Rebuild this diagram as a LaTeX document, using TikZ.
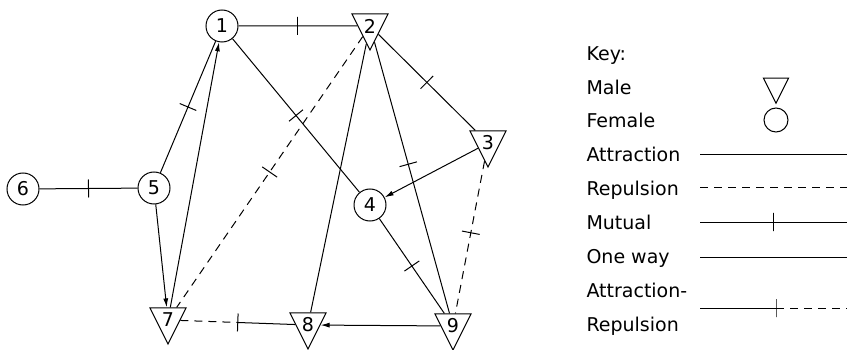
\documentclass[tikz,border=0pt]{standalone}
\usepackage{fontspec}
\usepackage{graphicx}
\setmainfont{DejaVu Sans}
\usetikzlibrary{shapes.geometric,arrows.meta}
\newcommand\maletext[1]{\scalebox{1}[0.866]{#1}}
\begin{document}
\begin{tikzpicture}[x=1pt,y=-1pt,
  every node/.style={font=\fontsize{19}{22}\selectfont},
  female/.style={circle,draw,line width=1pt,minimum size=32pt,inner sep=0pt},
  male/.style={regular polygon,regular polygon sides=3,shape border rotate=180,draw,line width=1pt,minimum size=41.6pt,inner sep=0pt,yscale=1.155,transform shape},
  link/.style={line width=1pt},
  rep/.style={link,dash pattern=on 8pt off 6pt},
  tick/.style={draw,solid,line width=1pt,rectangle,minimum width=0pt,minimum height=18pt,inner sep=0pt,sloped},
  oneway/.style={link,-{Latex[length=9pt,width=5pt]}},
  keytext/.style={anchor=base west}
]
\useasboundingbox (0,0) rectangle (852,350);
% nodes
\node[female] (n1) at (222,26) {1};
\node[male] (n2) at (370,26) {\maletext{2}};
\node[male] (n3) at (488,143) {\maletext{3}};
\node[female] (n4) at (370,205) {4};
\node[female] (n5) at (154,188) {5};
\node[female] (n6) at (23,189) {6};
\node[male] (n7) at (168,320) {\maletext{7}};
\node[male] (n8) at (308,325) {\maletext{8}};
\node[male] (n9) at (453,326) {\maletext{9}};
% connectors
\draw[link] (n1) -- node[tick]{} (n2);
\draw[link] (n1) -- node[tick]{} (n5);
\draw[link] (n6) -- node[tick]{} (n5);
\draw[oneway] (n5) -- (n7);
\draw[oneway] (n7) -- (n1);
\draw[link] (n1) -- node[tick]{} (n4);
\draw[rep] (n2) -- node[tick]{} (n7);
\draw[link] (n2) -- (n8);
\draw[link] (n2) -- node[tick,pos=0.45]{} (n9);
\draw[link] (n2) -- node[tick]{} (n3);
\draw[oneway] (n3) -- (n4);
\draw[link] (n4) -- node[tick]{} (n9);
\draw[rep] (n3) -- node[tick,pos=0.47]{} (n9);
\draw[oneway] (n9) -- (n8);
\path (n7) -- coordinate[midway] (m78) (n8);
\draw[rep] (n7) -- (m78);
\draw[link] (m78) -- node[tick,pos=0]{} (n8);
% key
\node[keytext] (kKey) at (583,61) {Key:};
\node[keytext] (kMale) at (583,94.5) {Male};
\node[keytext] (kFemale) at (583,128) {Female};
\node[keytext] (kAttr) at (583,162) {Attraction};
\node[keytext] (kRep) at (583,196) {Repulsion};
\node[keytext] (kMut) at (583,229.5) {Mutual};
\node[keytext] (kOne) at (583,263.5) {One way};
\node[keytext] (kAR1) at (583,297.5) {Attraction-};
\node[keytext] (kAR2) at (583,331) {Repulsion};
\node[male,minimum size=28.9pt] (kMaleSym) at (776,86.5) {};
\node[female,minimum size=24pt] (kFemaleSym) at (776,120) {};
\coordinate (ka1) at (700,155); \coordinate (ka2) at (847,155);
\draw[link] (ka1) -- (ka2);
\coordinate (kr1) at (700,188); \coordinate (kr2) at (847,188);
\draw[rep] (kr1) -- (kr2);
\coordinate (km1) at (700,222); \coordinate (km2) at (847,222);
\draw[link] (km1) -- node[tick]{} (km2);
\coordinate (ko1) at (700,257); \coordinate (ko2) at (847,257);
\draw[link] (ko1) -- (ko2);
\coordinate (kx1) at (700,308); \coordinate (kxm) at (776,308); \coordinate (kx2) at (847,308);
\draw[link] (kx1) -- node[tick,pos=1]{} (kxm);
\draw[rep] (kxm) -- (kx2);
\end{tikzpicture}
\end{document}
